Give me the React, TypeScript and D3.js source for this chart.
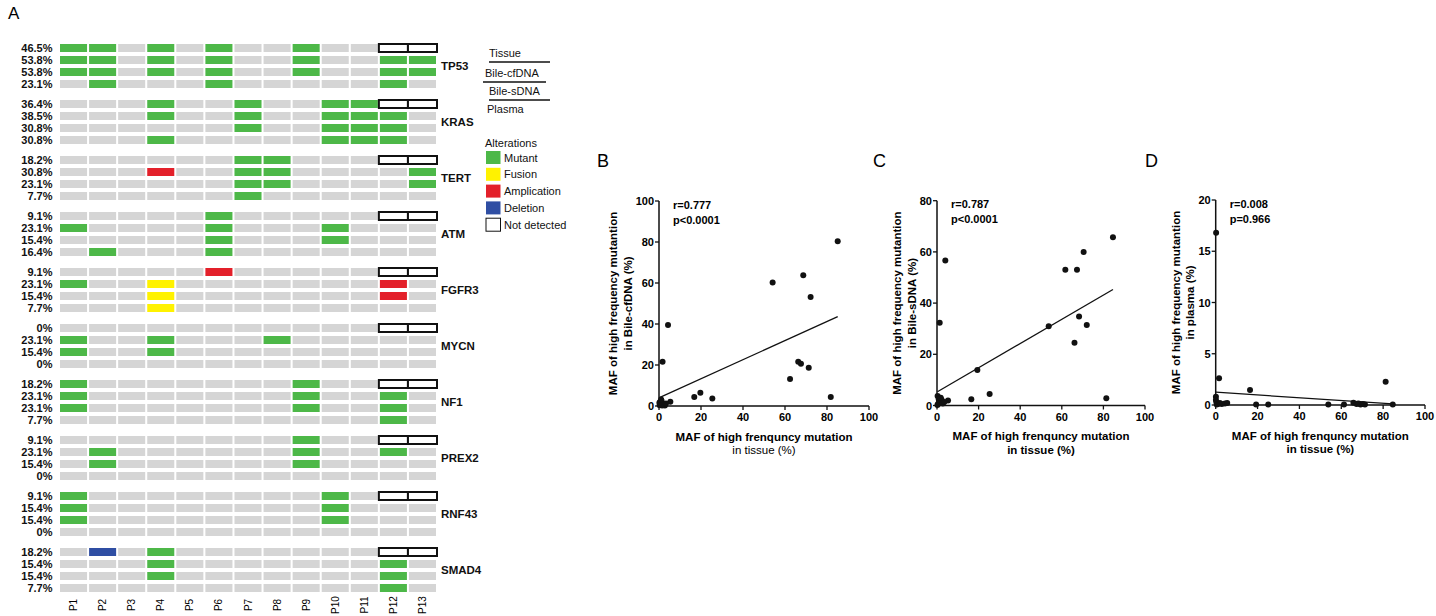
import * as d3 from 'd3';
import * as React from 'react';

const W = 1436;
const H = 616;
const FONT = '"Liberation Sans", Arial, Helvetica, sans-serif';

const patients = ['P1', 'P2', 'P3', 'P4', 'P5', 'P6', 'P7', 'P8', 'P9', 'P10', 'P11', 'P12', 'P13'];
const genes = ['TP53', 'KRAS', 'TERT', 'ATM', 'FGFR3', 'MYCN', 'NF1', 'PREX2', 'RNF43', 'SMAD4'];
const sources = ['Tissue', 'Bile-cfDNA', 'Bile-sDNA', 'Plasma'];

// one string per source row, one char per patient
// M mutant, F fusion, A amplication, D deletion, N not detected, . nothing
const alterations: Record<string, string[]> = {
  TP53: ['MM.M.M..M..NN', 'MM.M.M..M..MM', 'MM.M.M..M..MM', '.M...M.....M.'],
  KRAS: ['...M..M..MMNN', '...M..M..MMM.', '......M..MMM.', '...M.....MMM.'],
  TERT: ['......MM...NN', '...A..MM....M', '......MM....M', '......M......'],
  ATM: ['.....M.....NN', 'M....M...M...', '.....M...M...', '.M...M.......'],
  FGFR3: ['.....A.....NN', 'M..F.......A.', '...F.......A.', '...F.........'],
  MYCN: ['...........NN', 'M..M...M.....', 'M..M.........', '.............'],
  NF1: ['M.......M..NN', 'M.......M..M.', 'M.......M..M.', '...........M.'],
  PREX2: ['........M..NN', '.M......M..M.', '.M......M....', '.............'],
  RNF43: ['M........M.NN', 'M........M...', 'M........M...', '.............'],
  SMAD4: ['.D.M.......NN', '...M.......M.', '...M.......M.', '...........M.'],
};

const frequencies: Record<string, string[]> = {
  TP53: ['46.5%', '53.8%', '53.8%', '23.1%'],
  KRAS: ['36.4%', '38.5%', '30.8%', '30.8%'],
  TERT: ['18.2%', '30.8%', '23.1%', '7.7%'],
  ATM: ['9.1%', '23.1%', '15.4%', '16.4%'],
  FGFR3: ['9.1%', '23.1%', '15.4%', '7.7%'],
  MYCN: ['0%', '23.1%', '15.4%', '0%'],
  NF1: ['18.2%', '23.1%', '23.1%', '7.7%'],
  PREX2: ['9.1%', '23.1%', '15.4%', '0%'],
  RNF43: ['9.1%', '15.4%', '15.4%', '0%'],
  SMAD4: ['18.2%', '15.4%', '15.4%', '7.7%'],
};

const legendKeys = ['M', 'F', 'A', 'D', 'N'];
const legendNames = ['Mutant', 'Fusion', 'Amplication', 'Deletion', 'Not detected'];

const colors: Record<string, string> = {
  '.': '#d5d5d5',
  M: '#4db848',
  F: '#fff200',
  A: '#e3202a',
  D: '#2f4ea3',
  N: '#ffffff',
};

// scatter data [tissue MAF, other MAF]
const cfDnaPoints: [number, number][] = [
  [85.1, 80.4], [54.1, 60.2], [68.7, 63.8], [72.2, 53.2], [66.3, 21.6], [67.6, 20.6],
  [71.3, 18.7], [62.4, 13.2], [81.8, 4.4], [4.3, 39.5], [1.7, 21.6], [16.8, 4.4],
  [19.7, 6.5], [25.4, 3.7], [5.4, 2.1], [0.3, 0.4], [0.8, 1.2], [1.2, 2.6], [0.5, 2.0],
  [2.0, 0.8], [2.8, 0.3], [1.5, 0.2], [0.2, 1.6], [3.3, 1.2], [1.0, 3.2],
];
const sDnaPoints: [number, number][] = [
  [84.6, 65.7], [70.5, 60], [61.7, 53], [67.3, 53], [68.3, 34.8], [72, 31.4],
  [66.1, 24.5], [81.4, 2.8], [53.7, 31], [4.0, 56.6], [1.3, 32.3], [19.4, 13.9],
  [25.3, 4.5], [16.5, 2.4], [5.3, 2.0], [0.3, 3.7], [0.8, 2.5], [1.5, 1.5], [2.2, 2.2],
  [0.5, 0.6], [1.0, 1.0], [2.8, 0.8], [0.2, 0.2], [3.5, 1.4], [1.8, 3.0],
];
const plasmaPoints: [number, number][] = [
  [0.2, 16.8], [1.6, 2.6], [16.4, 1.46], [81.2, 2.27], [0.1, 0.8], [0.1, 0.5],
  [1.2, 0.1], [2.9, 0.1], [4.4, 0.15], [19.3, 0.05], [25.1, 0.05], [53.8, 0.05],
  [61.3, 0.05], [65.8, 0.22], [67.3, 0.1], [69.2, 0.05], [71.3, 0.05], [84.6, 0.05],
  [0.3, 0.3], [5.5, 0.2], [68.2, 0.15], [70.3, 0.1], [0.5, 0.05], [2.0, 0.2],
];

// regression line: [intercept, slope]
const cfDnaFit = [4.0, 0.465];
const sDnaFit = [5.3, 0.473];
const plasmaFit = [1.25, -0.0135];

const xTicks = [0, 20, 40, 60, 80, 100];

type Panel = {
  letter: string;
  letterX: number;
  left: number;
  right: number;
  top: number;
  bottom: number;
  yMax: number;
  yTicks: number[];
  points: [number, number][];
  fit: number[];
  yTitle: string[];
  titleOffset: number;
  stats: string[];
  secondXBold: boolean;
};

const panels: Panel[] = [
  {
    letter: 'B', letterX: 597, left: 659, right: 869, top: 201, bottom: 406,
    yMax: 100, yTicks: [0, 20, 40, 60, 80, 100], points: cfDnaPoints, fit: cfDnaFit,
    yTitle: ['MAF of high frequency mutantion', 'in Bile-cfDNA (%)'], titleOffset: 42,
    stats: ['r=0.777', 'p<0.0001'], secondXBold: false,
  },
  {
    letter: 'C', letterX: 873, left: 937, right: 1145, top: 200.7, bottom: 405.5,
    yMax: 80, yTicks: [0, 20, 40, 60, 80], points: sDnaPoints, fit: sDnaFit,
    yTitle: ['MAF of high frequency mutantion', 'in Bile-sDNA (%)'], titleOffset: 36,
    stats: ['r=0.787', 'p<0.0001'], secondXBold: true,
  },
  {
    letter: 'D', letterX: 1145, left: 1215.7, right: 1425, top: 200, bottom: 405,
    yMax: 20, yTicks: [0, 5, 10, 15, 20], points: plasmaPoints, fit: plasmaFit,
    yTitle: ['MAF of high frequency mutantion', 'in plasma (%)'], titleOffset: 36,
    stats: ['r=0.008', 'p=0.966'], secondXBold: true,
  },
];

function Scatter({ p }: { p: Panel }) {
  const x = d3.scaleLinear().domain([0, 100]).range([p.left, p.right]);
  const y = d3.scaleLinear().domain([0, p.yMax]).range([p.bottom, p.top]);
  const ext = d3.extent(p.points, d => d[0]) as [number, number];
  const line = d3
    .line<number>()
    .x(d => x(d))
    .y(d => y(p.fit[0] + p.fit[1] * d));
  const midY = (p.top + p.bottom) / 2;
  const midX = (p.left + p.right) / 2;

  return (
    <g fontFamily={FONT}>
      <text x={p.letterX} y={167} fontSize={18}>{p.letter}</text>
      <path
        d={`M${p.left},${p.top}V${p.bottom}H${p.right}`}
        fill="none"
        stroke="#111"
        strokeWidth={1.5}
      />
      {p.yTicks.map(t => (
        <g key={'y' + t}>
          <line x1={p.left - 4} x2={p.left} y1={y(t)} y2={y(t)} stroke="#111" strokeWidth={1.3} />
          <text x={p.left - 5} y={y(t) + 4} textAnchor="end" fontSize={11} fontWeight="bold">{t}</text>
        </g>
      ))}
      {xTicks.map(t => (
        <g key={'x' + t}>
          <line x1={x(t)} x2={x(t)} y1={p.bottom} y2={p.bottom + 4} stroke="#111" strokeWidth={1.3} />
          <text x={x(t)} y={p.bottom + 15} textAnchor="middle" fontSize={11} fontWeight="bold">{t}</text>
        </g>
      ))}
      <path d={line([ext[0], ext[1]]) || ''} fill="none" stroke="#111" strokeWidth={1.3} />
      {p.points.map((d, i) => (
        <circle key={i} cx={x(d[0])} cy={y(d[1])} r={3} fill="#111" />
      ))}
      <text x={p.left + 14} y={p.top + 7.5} fontSize={11} fontWeight="bold">{p.stats[0]}</text>
      <text x={p.left + 14} y={p.top + 22.5} fontSize={11} fontWeight="bold">{p.stats[1]}</text>
      <text x={midX} y={p.bottom + 34.5} textAnchor="middle" fontSize={11.5} fontWeight="bold">
        MAF of high frenquncy mutation
      </text>
      <text
        x={midX}
        y={p.bottom + 48}
        textAnchor="middle"
        fontSize={11.5}
        fontWeight={p.secondXBold ? 'bold' : 'normal'}
      >
        in tissue (%)
      </text>
      {p.yTitle.map((s, i) => (
        <text
          key={s}
          transform={`translate(${p.left - p.titleOffset + i * 14.5},${midY}) rotate(-90)`}
          textAnchor="middle"
          fontSize={11.5}
          fontWeight="bold"
        >
          {s}
        </text>
      ))}
    </g>
  );
}

export default function App() {
  const x = d3.scaleBand<string>().domain(patients).range([60, 436]).paddingInner(0.07);
  const gy = d3.scalePoint<string>().domain(genes).range([48, 552]);
  const ry = d3.scalePoint<string>().domain(sources).range([0, 36]);
  const cellH = 8;
  const bw = x.bandwidth();

  return (
    <svg
      width={W}
      height={H}
      style={{ position: 'absolute', left: 0, top: 0, background: '#fff' }}
      fontFamily={FONT}
    >
      <rect width={W} height={H} fill="#fff" />
      <text x={8} y={19} fontSize={17}>A</text>

      {genes.map(g => (
        <g key={g}>
          {sources.map((s, ri) => {
            const cy = (gy(g) as number) + (ry(s) as number);
            return (
              <g key={s}>
                <text x={52.5} y={cy + 4} textAnchor="end" fontSize={11} fontWeight="bold" fill="#111">
                  {frequencies[g][ri]}
                </text>
                {patients.map((pt, ci) => {
                  const k = alterations[g][ri][ci];
                  const nd = k === 'N';
                  return (
                    <rect
                      key={pt}
                      x={(x(pt) as number) - (nd ? 1 : 0)}
                      y={cy - cellH / 2}
                      width={bw + (nd ? 2 : 0)}
                      height={cellH}
                      fill={colors[k]}
                      stroke={nd ? '#111' : 'none'}
                      strokeWidth={nd ? 2 : 0}
                    />
                  );
                })}
              </g>
            );
          })}
          <text
            x={441}
            y={(gy(g) as number) + 18 + 4}
            fontSize={11.5}
            fontWeight="bold"
            fill="#111"
          >
            {g}
          </text>
        </g>
      ))}

      {patients.map(pt => (
        <text
          key={pt}
          transform={`translate(${(x(pt) as number) + bw / 2 + 3.5},605) rotate(-90)`}
          textAnchor="middle"
          fontSize={10}
        >
          {pt}
        </text>
      ))}

      {/* source legend */}
      <g fontSize={11} fill="#111">
        <text x={489} y={57}>Tissue</text>
        <line x1={489} x2={550} y1={62} y2={62} stroke="#111" strokeWidth={1.3} />
        <text x={485} y={77}>Bile-cfDNA</text>
        <line x1={483} x2={546} y1={82} y2={82} stroke="#111" strokeWidth={1.3} />
        <text x={489} y={95}>Bile-sDNA</text>
        <line x1={489} x2={550} y1={100} y2={100} stroke="#111" strokeWidth={1.3} />
        <text x={487} y={113}>Plasma</text>
      </g>

      {/* alteration legend */}
      <g fontSize={11} fill="#111">
        <text x={485} y={147}>Alterations</text>
        {legendKeys.map((k, i) => (
          <g key={k}>
            <rect
              x={486}
              y={151 + i * 16.8}
              width={14.5}
              height={13}
              fill={colors[k]}
              stroke={k === 'N' ? '#111' : 'none'}
              strokeWidth={1}
            />
            <text x={504} y={151 + i * 16.8 + 10.5}>{legendNames[i]}</text>
          </g>
        ))}
      </g>

      {panels.map(p => (
        <Scatter key={p.letter} p={p} />
      ))}
    </svg>
  );
}
